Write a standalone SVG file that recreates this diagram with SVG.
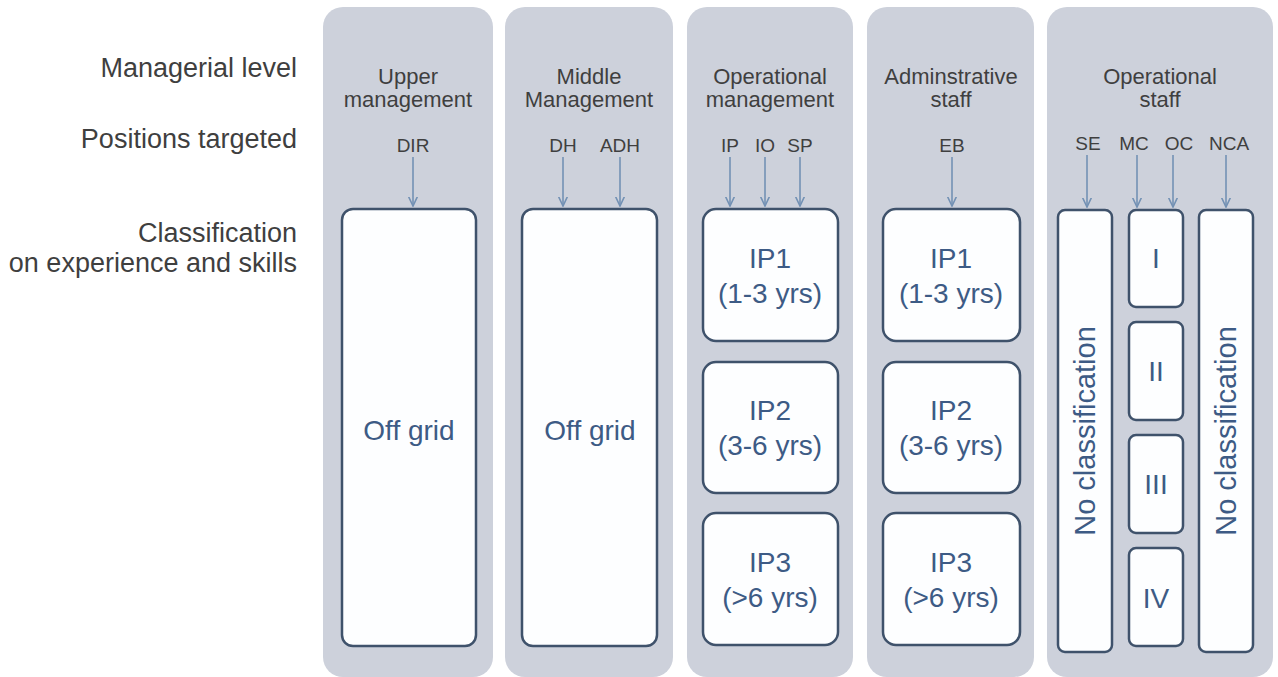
<svg xmlns="http://www.w3.org/2000/svg" width="1278" height="677" viewBox="0 0 1278 677">
<style>
.panel{fill:#cdd1db;stroke:none}
.box{fill:#fdfeff;stroke:#3f526b;stroke-width:2.5}
.lbl{font-family:"Liberation Sans",Arial,sans-serif;font-size:27px;fill:#3f3f3f;text-anchor:end}
.hdr{font-family:"Liberation Sans",Arial,sans-serif;font-size:22px;fill:#3f3f3f;text-anchor:middle}
.pos{font-family:"Liberation Sans",Arial,sans-serif;font-size:19px;fill:#3f3f3f;text-anchor:middle}
.bt{font-family:"Liberation Sans",Arial,sans-serif;font-size:28px;fill:#3d5b85;text-anchor:middle}
.vt{font-family:"Liberation Sans",Arial,sans-serif;font-size:29px;fill:#3d5b85;text-anchor:middle}
.conn{stroke:#7391b4;stroke-width:1.6;fill:none}
</style>
<defs>
<marker id="ah" viewBox="0 0 10 10" refX="9.5" refY="5" markerWidth="10" markerHeight="10" markerUnits="userSpaceOnUse" orient="auto">
<path d="M0,0.5 L9.5,5 L0,9.5" fill="none" stroke="#7391b4" stroke-width="1.6"/>
</marker>
</defs>
<rect width="1278" height="677" fill="#ffffff"/>
<g id="row-labels">
<text class="lbl" x="297" y="77">Managerial level</text>
<text class="lbl" x="297" y="148">Positions targeted</text>
<text class="lbl" x="297" y="242">Classification</text>
<text class="lbl" x="297" y="272">on experience and skills</text>
</g>
<g id="col-upper">
<rect class="panel" x="323" y="7" width="170" height="670" rx="20"/>
<text class="hdr" x="408" y="84">Upper</text>
<text class="hdr" x="408" y="107">management</text>
<text class="pos" x="413" y="152">DIR</text>
<rect class="box" x="342" y="209" width="134" height="437" rx="11"/>
<text class="bt" x="409" y="440">Off grid</text>
</g>
<g id="col-middle">
<rect class="panel" x="505" y="7" width="168" height="670" rx="20"/>
<text class="hdr" x="589" y="84">Middle</text>
<text class="hdr" x="589" y="107">Management</text>
<text class="pos" x="563" y="152">DH</text>
<text class="pos" x="620" y="152">ADH</text>
<rect class="box" x="522" y="209" width="135" height="437" rx="11"/>
<text class="bt" x="590" y="440">Off grid</text>
</g>
<g id="col-operational-mgmt">
<rect class="panel" x="687" y="7" width="166" height="670" rx="20"/>
<text class="hdr" x="770" y="84">Operational</text>
<text class="hdr" x="770" y="107">management</text>
<text class="pos" x="730" y="152">IP</text>
<text class="pos" x="765" y="152">IO</text>
<text class="pos" x="800" y="152">SP</text>
<rect class="box" x="703" y="209" width="135" height="132" rx="13"/>
<text class="bt" x="770" y="268">IP1</text>
<text class="bt" x="770" y="303">(1-3 yrs)</text>
<rect class="box" x="703" y="362" width="135" height="131" rx="13"/>
<text class="bt" x="770" y="420">IP2</text>
<text class="bt" x="770" y="455">(3-6 yrs)</text>
<rect class="box" x="703" y="513" width="135" height="132" rx="13"/>
<text class="bt" x="770" y="572">IP3</text>
<text class="bt" x="770" y="607">(&gt;6 yrs)</text>
</g>
<g id="col-admin">
<rect class="panel" x="867" y="7" width="167" height="670" rx="20"/>
<text class="hdr" x="951" y="84">Adminstrative</text>
<text class="hdr" x="951" y="107">staff</text>
<text class="pos" x="952" y="152">EB</text>
<rect class="box" x="883" y="209" width="137" height="132" rx="13"/>
<text class="bt" x="951" y="268">IP1</text>
<text class="bt" x="951" y="303">(1-3 yrs)</text>
<rect class="box" x="883" y="362" width="137" height="131" rx="13"/>
<text class="bt" x="951" y="420">IP2</text>
<text class="bt" x="951" y="455">(3-6 yrs)</text>
<rect class="box" x="883" y="513" width="137" height="132" rx="13"/>
<text class="bt" x="951" y="572">IP3</text>
<text class="bt" x="951" y="607">(&gt;6 yrs)</text>
</g>
<g id="col-operational-staff">
<rect class="panel" x="1047" y="7" width="226" height="670" rx="20"/>
<text class="hdr" x="1160" y="84">Operational</text>
<text class="hdr" x="1160" y="107">staff</text>
<text class="pos" x="1088" y="150">SE</text>
<text class="pos" x="1134" y="150">MC</text>
<text class="pos" x="1179" y="150">OC</text>
<text class="pos" x="1229" y="150">NCA</text>
<rect class="box" x="1058" y="210" width="54" height="442" rx="7"/>
<text class="vt" transform="translate(1095,431) rotate(-90)" x="0" y="0">No classification</text>
<rect class="box" x="1129" y="210" width="54" height="97" rx="7"/>
<text class="bt" x="1156" y="268">I</text>
<rect class="box" x="1129" y="322" width="54" height="98" rx="7"/>
<text class="bt" x="1156" y="381">II</text>
<rect class="box" x="1129" y="435" width="54" height="98" rx="7"/>
<text class="bt" x="1156" y="494">III</text>
<rect class="box" x="1129" y="548" width="54" height="98" rx="7"/>
<text class="bt" x="1156" y="608">IV</text>
<rect class="box" x="1199" y="210" width="54" height="442" rx="7"/>
<text class="vt" transform="translate(1236,431) rotate(-90)" x="0" y="0">No classification</text>
</g>
<g id="connectors">
<line class="conn" x1="413" y1="157" x2="413" y2="206" marker-end="url(#ah)"/>
<line class="conn" x1="563" y1="157" x2="563" y2="206" marker-end="url(#ah)"/>
<line class="conn" x1="620" y1="157" x2="620" y2="206" marker-end="url(#ah)"/>
<line class="conn" x1="730" y1="157" x2="730" y2="206" marker-end="url(#ah)"/>
<line class="conn" x1="765" y1="157" x2="765" y2="206" marker-end="url(#ah)"/>
<line class="conn" x1="800" y1="157" x2="800" y2="206" marker-end="url(#ah)"/>
<line class="conn" x1="952" y1="157" x2="952" y2="206" marker-end="url(#ah)"/>
<line class="conn" x1="1087" y1="155" x2="1087" y2="207" marker-end="url(#ah)"/>
<line class="conn" x1="1137" y1="155" x2="1137" y2="207" marker-end="url(#ah)"/>
<line class="conn" x1="1173" y1="155" x2="1173" y2="207" marker-end="url(#ah)"/>
<line class="conn" x1="1226" y1="155" x2="1226" y2="207" marker-end="url(#ah)"/>
</g>
</svg>
